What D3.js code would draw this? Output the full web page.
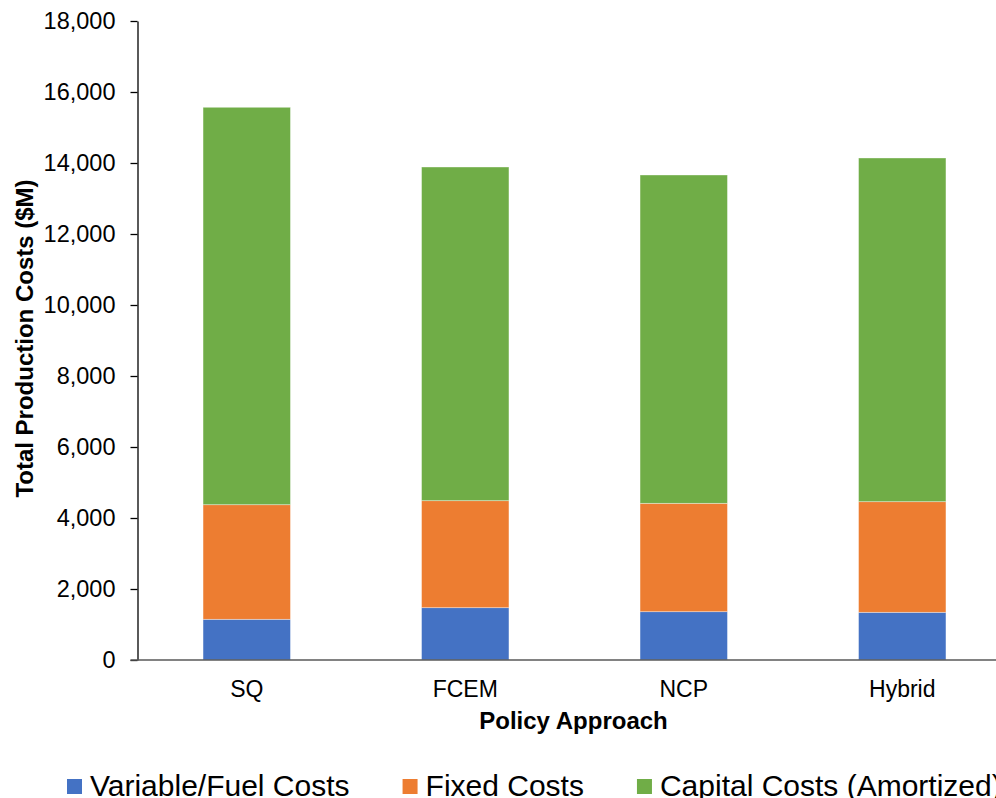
<!DOCTYPE html>
<html>
<head>
<meta charset="utf-8">
<script src="https://cdn.jsdelivr.net/npm/d3@7/dist/d3.min.js"></script>
<style>
  html, body { margin: 0; padding: 0; background: #fff; }
  svg { display: block; font-family: "Liberation Sans", Arial, sans-serif; }
</style>
</head>
<body>
<svg id="chart" width="996" height="798"></svg>
<script>
// Policy approaches on the category axis
const categories = ["SQ", "FCEM", "NCP", "Hybrid"];

// Cost components, $M
const seriesNames = ["Variable/Fuel Costs", "Fixed Costs", "Capital Costs (Amortized)"];
const variableFuel = [1146, 1474, 1361, 1343];
const fixedCosts   = [3229, 3014, 3052, 3117];
const capitalCosts = [11194, 9399, 9249, 9681];

const yTicks = [0, 2000, 4000, 6000, 8000, 10000, 12000, 14000, 16000, 18000];
const colors = ["#4472C4", "#ED7D31", "#70AD47"];

const svg = d3.select("#chart");

const plot = { left: 137.5, right: 1011.5, top: 21, bottom: 660 };

const x = d3.scaleBand()
  .domain(categories)
  .range([plot.left, plot.right])
  .paddingInner(0.6)
  .paddingOuter(0.3);

const y = d3.scaleLinear()
  .domain([0, 18000])
  .range([plot.bottom, plot.top]);

// Stack the three components per policy approach
const rows = categories.map((c, i) => ({
  category: c,
  [seriesNames[0]]: variableFuel[i],
  [seriesNames[1]]: fixedCosts[i],
  [seriesNames[2]]: capitalCosts[i]
}));
const stacked = d3.stack().keys(seriesNames)(rows);

svg.append("g")
  .selectAll("g")
  .data(stacked)
  .join("g")
    .attr("fill", (d, i) => colors[i])
  .selectAll("rect")
  .data(d => d)
  .join("rect")
    .attr("x", d => x(d.data.category))
    .attr("width", x.bandwidth())
    .attr("y", d => y(d[1]))
    .attr("height", d => y(d[0]) - y(d[1]))
    .attr("stroke", "rgba(255,255,255,0.45)")
    .attr("stroke-width", 0.8);

// Y axis
const yAxis = svg.append("g")
  .attr("transform", `translate(${plot.left},0)`)
  .call(d3.axisLeft(y)
    .tickValues(yTicks)
    .tickFormat(d3.format(","))
    .tickSize(7)
    .tickSizeOuter(0)
    .tickPadding(15));
yAxis.select(".domain").attr("stroke", "#000").attr("stroke-width", 1.3);
yAxis.selectAll(".tick line").attr("stroke", "#000").attr("stroke-width", 1.3);
yAxis.selectAll(".tick text")
  .attr("font-size", 23.5)
  .attr("font-family", "Liberation Sans, Arial, sans-serif")
  .attr("fill", "#000");

// Category baseline
svg.append("line")
  .attr("x1", plot.left - 7).attr("x2", 996)
  .attr("y1", y(0)).attr("y2", y(0))
  .attr("stroke", "#595959")
  .attr("stroke-width", 1.3);

// Category labels
svg.append("g")
  .selectAll("text")
  .data(categories)
  .join("text")
    .attr("x", d => x(d) + x.bandwidth() / 2)
    .attr("y", 697)
    .attr("text-anchor", "middle")
    .attr("font-size", 23)
    .attr("fill", "#000")
    .text(d => d);

// Axis titles
svg.append("text")
  .attr("x", (plot.left + plot.right) / 2 - 1)
  .attr("y", 729)
  .attr("text-anchor", "middle")
  .attr("font-size", 24)
  .attr("font-weight", "bold")
  .attr("fill", "#000")
  .text("Policy Approach");

svg.append("text")
  .attr("transform", "translate(33,338.5) rotate(-90)")
  .attr("text-anchor", "middle")
  .attr("font-size", 24)
  .attr("font-weight", "bold")
  .attr("fill", "#000")
  .text("Total Production Costs ($M)");

// Legend
const legend = svg.append("g");
let lx = 67;
seriesNames.forEach((name, i) => {
  legend.append("rect")
    .attr("x", lx).attr("y", 779)
    .attr("width", 15).attr("height", 15)
    .attr("fill", colors[i]);
  const t = legend.append("text")
    .attr("x", lx + 23)
    .attr("y", 796)
    .attr("font-size", 30)
    .attr("fill", "#000")
    .text(name);
  lx += 23 + t.node().getComputedTextLength() + 53;
});
</script>
</body>
</html>
